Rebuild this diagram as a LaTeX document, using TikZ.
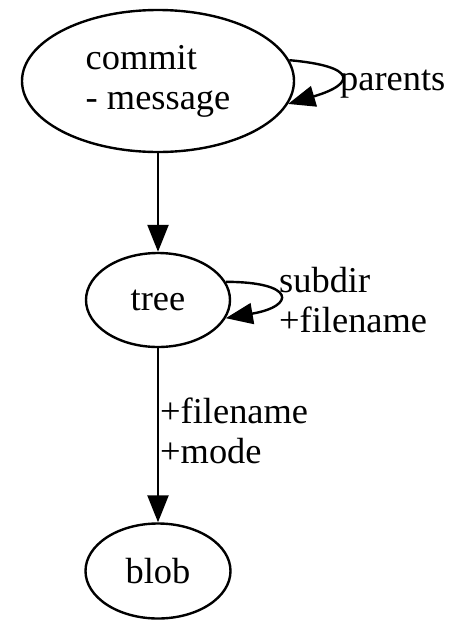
\documentclass[tikz,border=0pt]{standalone}
\usepackage{fontspec}
\setmainfont{Liberation Serif}
\usetikzlibrary{shapes.geometric,arrows.meta}
\tikzset{
  gvnode/.style={draw, ellipse, line width=2.4pt, inner sep=0pt, align=left,
    font=\fontsize{36.4pt}{40pt}\selectfont},
  gvlabel/.style={inner sep=0pt, align=left, font=\fontsize{36.4pt}{40pt}\selectfont},
  gvarr/.style={line width=2.4pt, -{Triangle[length=27pt,width=21pt]}}
}
\begin{document}
\begin{tikzpicture}[x=1pt,y=-1pt]
\useasboundingbox (0,0) rectangle (468,633);
\node[gvnode, minimum width=272pt, minimum height=142pt] (commit) at (158,81) {commit\\- message};
\node[gvnode, minimum width=144pt, minimum height=94pt] (tree) at (158,300) {tree};
\node[gvnode, minimum width=145pt, minimum height=95pt] (blob) at (158,571) {blob};
\draw[gvarr] (commit) -- (tree);
\draw[gvarr] (tree) -- (blob);
\draw[gvarr] (commit.9) .. controls +(68,6) and +(68,-20) .. (commit.-10);
\draw[gvarr] (tree.15) .. controls +(70,0) and +(70,-12) .. (tree.-15);
\node[gvlabel, anchor=base west] (lparents) at (340,90) {parents};
\node[gvlabel, anchor=north west] (lsubdir) at (279,267) {subdir\\+filename};
\node[gvlabel, anchor=north west] (lfile) at (160,398) {+filename\\+mode};
\end{tikzpicture}
\end{document}
